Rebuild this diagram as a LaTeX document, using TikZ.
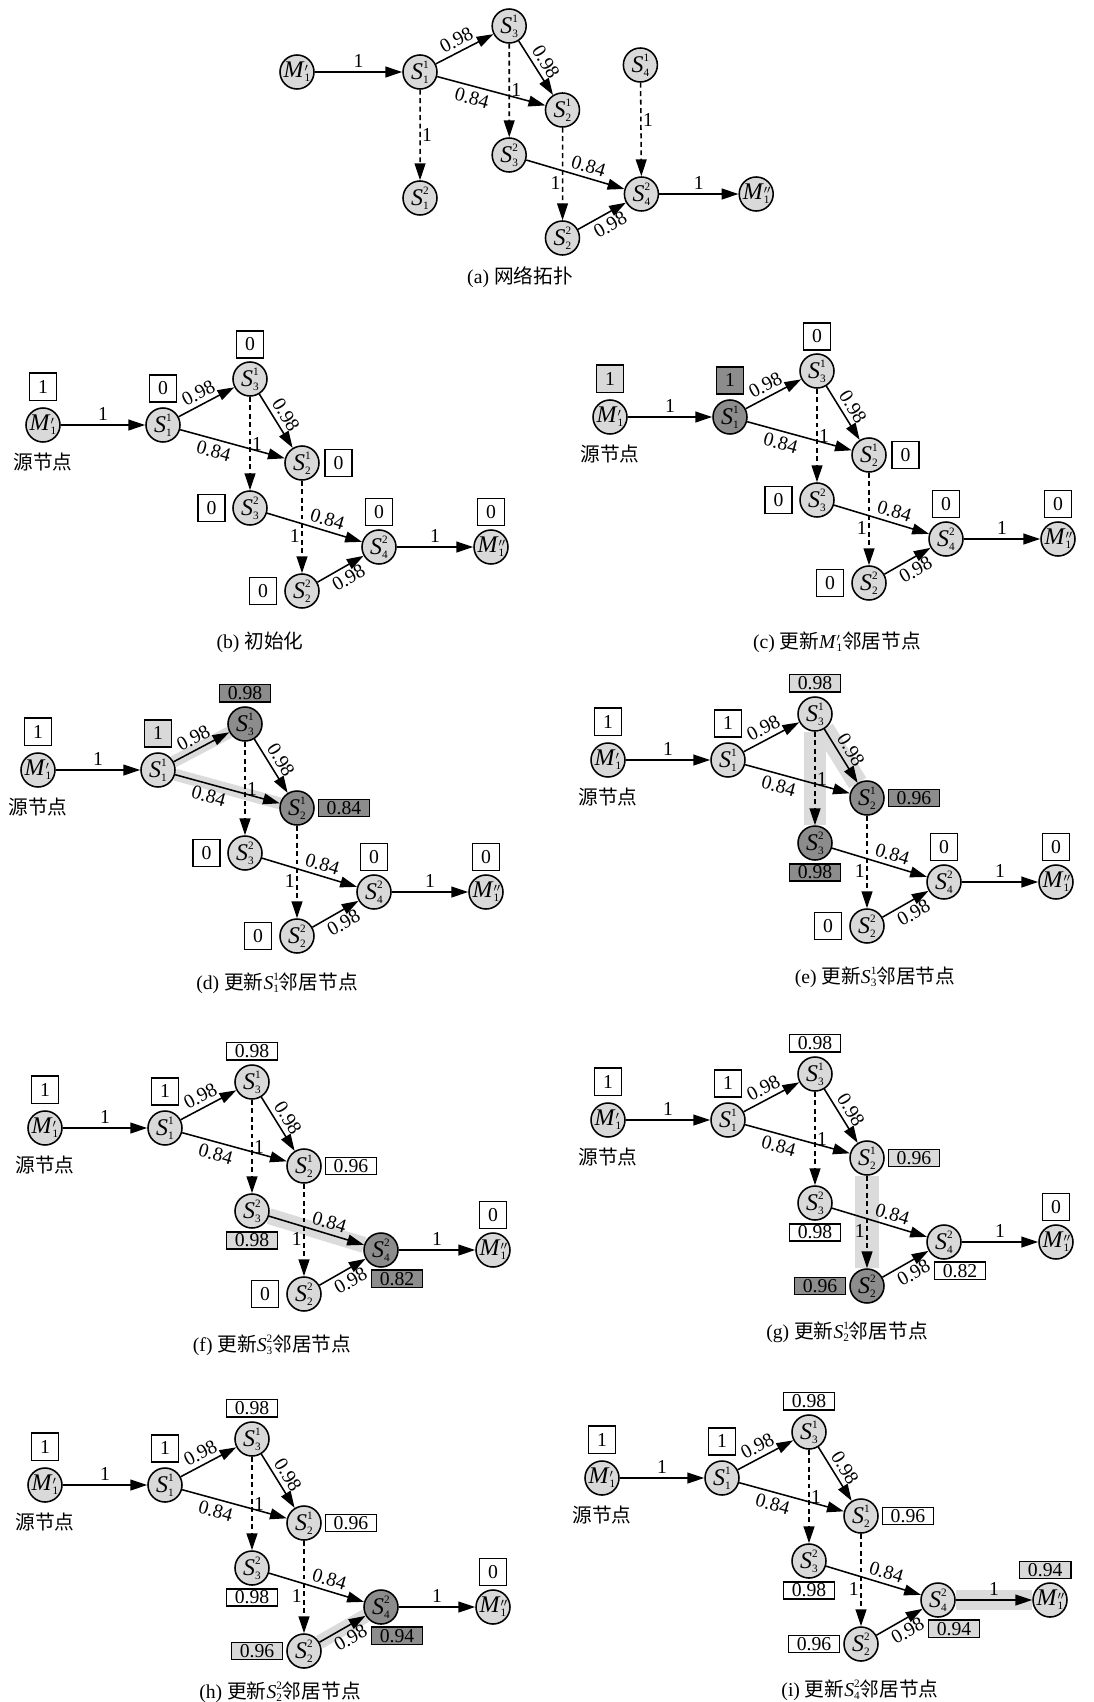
\documentclass[tikz,border=0pt]{standalone}
\usepackage{fontspec}
\setmainfont{Liberation Serif}
\newfontfamily\cjk{Noto Sans CJK SC}
\usetikzlibrary{arrows.meta,positioning,backgrounds}

\definecolor{ndgray}{gray}{0.85}
\definecolor{dkgray}{gray}{0.55}
\definecolor{hlgray}{gray}{0.86}

\newcommand{\tinyidx}{\fontsize{8}{8}\selectfont}
\newcommand{\Snd}[2]{\textit{S}\rlap{\raisebox{0.45em}{\tinyidx #1}}\raisebox{-0.17em}{\tinyidx #2}}
\newcommand{\Mnd}[1]{\textit{M}\rlap{\raisebox{0.05em}{\fontsize{11}{11}\selectfont$#1$}}\raisebox{-0.17em}{\tinyidx 1}}

% the network drawn in every panel, origin at M1'
\newcommand{\drawnet}[1]{%
  \node[nd,M1] (#1M1) at (0,0) {\Mnd{'}};
  \node[nd,S11] (#1S11) at (120,0) {\Snd{1}{1}};
  \node[nd,S31] (#1S31) at (207,-46) {\Snd{1}{3}};
  \node[nd,S21] (#1S21) at (259,38) {\Snd{1}{2}};
  \node[nd,S32] (#1S32) at (207,83) {\Snd{2}{3}};
  \node[nd,S42] (#1S42) at (336,122) {\Snd{2}{4}};
  \node[nd,S22] (#1S22) at (259,166) {\Snd{2}{2}};
  \node[nd,M2] (#1M2) at (448,122) {\Mnd{''}};
  \draw[arr] (#1M1) -- node[above] {1} (#1S11);
  \draw[arr] (#1S11) -- node[above,sloped,pos=0.45] {0.98} (#1S31);
  \draw[arr] (#1S31) -- node[above,sloped] {0.98} (#1S21);
  \draw[arr] (#1S11) -- node[below,sloped,pos=0.35] {0.84} (#1S21);
  \draw[arr,dsh] (#1S31) -- node[right,inner sep=1pt] {1} (#1S32);
  \draw[arr,dsh] (#1S21) -- node[left,inner sep=1pt,pos=0.6] {1} (#1S22);
  \draw[arr] (#1S32) -- node[above,sloped,pos=0.6] {0.84} (#1S42);
  \draw[arr] (#1S22) -- node[below,sloped,pos=0.55] {0.98} (#1S42);
  \draw[arr] (#1S42) -- node[above] {1} (#1M2);
}

\begin{document}
\begin{tikzpicture}[x=0.025cm, y=-0.025cm, font=\fontsize{14}{17}\selectfont,
    nd/.style={circle, draw, line width=1.1pt, fill=ndgray, minimum size=0.85cm, inner sep=0pt, font=\fontsize{17}{17}\selectfont},
    val/.style={draw, line width=1.1pt, fill=white, minimum width=0.68cm, minimum height=0.68cm, inner sep=0pt},
    valw/.style={val, minimum width=1.28cm, minimum height=0.43cm},
    lt/.style={fill=ndgray},
    dk/.style={fill=dkgray},
    arr/.style={-{Triangle[length=0.42cm,width=0.27cm]}, line width=1.1pt, every node/.style={inner sep=3pt}},
    dsh/.style={dash pattern=on 3.5pt off 2.5pt},
    hl/.style={draw=hlgray, line width=#1}, hl/.default=0.45cm,
    M1/.style={}, S11/.style={}, S31/.style={}, S21/.style={},
    S32/.style={}, S42/.style={}, S22/.style={}, M2/.style={}
]
\useasboundingbox (0,0) rectangle (1093,1702);

% (a)
\begin{scope}[shift={(297,72)}, xscale=1.025]
  \drawnet{a}
  \node[nd] (aS12) at (120,126) {\Snd{2}{1}};
  \node[nd] (aS41) at (335,-7) {\Snd{1}{4}};
  \draw[arr,dsh] (aS11) -- node[right,inner sep=1pt] {1} (aS12);
  \draw[arr,dsh] (aS41) -- node[right,inner sep=1pt,pos=0.4] {1} (aS42);
\end{scope}
\node (capa) at (520,277) {(a) {\cjk 网络拓扑}};

% (b)
\begin{scope}[shift={(43,425)}]
  \drawnet{b}
  \node[below=0.12cm of bM1] (bsrc) {\cjk 源节点};
  \node[val, above=0.15cm of bM1] (bvM1) {1};
  \node[val, above=0.11cm of bS11] (bvS11) {0};
  \node[val, above=0.06cm of bS31] (bvS31) {0};
  \node[val, right=0.11cm of bS21] (bvS21) {0};
  \node[val, left=0.16cm of bS32] (bvS32) {0};
  \node[val, above=0.07cm of bS42] (bvS42) {0};
  \node[val, above=0.07cm of bM2] (bvM2) {0};
  \node[val, left=0.17cm of bS22] (bvS22) {0};
\end{scope}
\node (capb) at (260,642) {(b) {\cjk 初始化}};

% (c)
\begin{scope}[shift={(610,417)}, S11/.style={fill=dkgray}]
  \drawnet{c}
  \node[below=0.12cm of cM1] (csrc) {\cjk 源节点};
  \node[val, lt, above=0.15cm of cM1] (cvM1) {1};
  \node[val, dk, above=0.11cm of cS11] (cvS11) {1};
  \node[val, above=0.06cm of cS31] (cvS31) {0};
  \node[val, right=0.11cm of cS21] (cvS21) {0};
  \node[val, left=0.16cm of cS32] (cvS32) {0};
  \node[val, above=0.07cm of cS42] (cvS42) {0};
  \node[val, above=0.07cm of cM2] (cvM2) {0};
  \node[val, left=0.17cm of cS22] (cvS22) {0};
\end{scope}
\node (capc) at (837,642) {(c) {\cjk 更新}\Mnd{'}{\cjk 邻居节点}};

% (d)
\begin{scope}[shift={(38,770)}, S31/.style={fill=dkgray}, S21/.style={fill=dkgray}]
  \drawnet{d}
  \begin{scope}[on background layer]
    \draw[hl=0.3cm] (dS11) -- (dS31);
    \draw[hl=0.3cm] (dS11) -- (dS21);
  \end{scope}
  \node[below=0.12cm of dM1] (dsrc) {\cjk 源节点};
  \node[val, above=0.15cm of dM1] (dvM1) {1};
  \node[val, lt, above=0.11cm of dS11] (dvS11) {1};
  \node[valw, dk, above=0.09cm of dS31] (dvS31) {0.98};
  \node[valw, dk, right=0.07cm of dS21] (dvS21) {0.84};
  \node[val, left=0.16cm of dS32] (dvS32) {0};
  \node[val, above=0.07cm of dS42] (dvS42) {0};
  \node[val, above=0.07cm of dM2] (dvM2) {0};
  \node[val, left=0.17cm of dS22] (dvS22) {0};
\end{scope}
\node (capd) at (277,983) {(d) {\cjk 更新}\Snd{1}{1}{\cjk 邻居节点}};

% (e)
\begin{scope}[shift={(608,760)}, S21/.style={fill=dkgray}, S32/.style={fill=dkgray}]
  \drawnet{e}
  \begin{scope}[on background layer]
    \draw[hl=0.55cm] (eS31) -- (eS32);
    \draw[hl=0.5cm] (eS31) -- (eS21);
  \end{scope}
  \node[below=0.12cm of eM1] (esrc) {\cjk 源节点};
  \node[val, above=0.15cm of eM1] (evM1) {1};
  \node[val, above=0.11cm of eS11] (evS11) {1};
  \node[valw, lt, above=0.09cm of eS31] (evS31) {0.98};
  \node[valw, dk, right=0.07cm of eS21] (evS21) {0.96};
  \node[valw, dk, below=0.06cm of eS32] (evS32) {0.98};
  \node[val, above=0.07cm of eS42] (evS42) {0};
  \node[val, above=0.07cm of eM2] (evM2) {0};
  \node[val, left=0.17cm of eS22] (evS22) {0};
\end{scope}
\node (cape) at (875,977) {(e) {\cjk 更新}\Snd{1}{3}{\cjk 邻居节点}};

% (f)
\begin{scope}[shift={(45,1128)}, S42/.style={fill=dkgray}]
  \drawnet{f}
  \begin{scope}[on background layer]
    \draw[hl=0.4cm] (fS32) -- (fS42);
  \end{scope}
  \node[below=0.12cm of fM1] (fsrc) {\cjk 源节点};
  \node[val, above=0.15cm of fM1] (fvM1) {1};
  \node[val, above=0.11cm of fS11] (fvS11) {1};
  \node[valw, above=0.09cm of fS31] (fvS31) {0.98};
  \node[valw, right=0.07cm of fS21] (fvS21) {0.96};
  \node[valw, lt, below=0.06cm of fS32] (fvS32) {0.98};
  \node[valw, dk, below=0.04cm of fS42, xshift=0.4cm] (fvS42) {0.82};
  \node[val, above=0.07cm of fM2] (fvM2) {0};
  \node[val, left=0.17cm of fS22] (fvS22) {0};
\end{scope}
\node (capf) at (272,1345) {(f) {\cjk 更新}\Snd{2}{3}{\cjk 邻居节点}};

% (g)
\begin{scope}[shift={(608,1120)}, S22/.style={fill=dkgray}]
  \drawnet{g}
  \begin{scope}[on background layer]
    \draw[hl=0.6cm] (gS21) -- (gS22);
  \end{scope}
  \node[below=0.12cm of gM1] (gsrc) {\cjk 源节点};
  \node[val, above=0.15cm of gM1] (gvM1) {1};
  \node[val, above=0.11cm of gS11] (gvS11) {1};
  \node[valw, above=0.09cm of gS31] (gvS31) {0.98};
  \node[valw, lt, right=0.07cm of gS21] (gvS21) {0.96};
  \node[valw, below=0.06cm of gS32] (gvS32) {0.98};
  \node[valw, below=0.04cm of gS42, xshift=0.4cm] (gvS42) {0.82};
  \node[val, above=0.07cm of gM2] (gvM2) {0};
  \node[valw, dk, left=0.07cm of gS22] (gvS22) {0.96};
\end{scope}
\node (capg) at (847,1332) {(g) {\cjk 更新}\Snd{1}{2}{\cjk 邻居节点}};

% (h)
\begin{scope}[shift={(45,1485)}, S42/.style={fill=dkgray}]
  \drawnet{h}
  \begin{scope}[on background layer]
    \draw[hl=0.35cm] (hS22) -- (hS42);
  \end{scope}
  \node[below=0.12cm of hM1] (hsrc) {\cjk 源节点};
  \node[val, above=0.15cm of hM1] (hvM1) {1};
  \node[val, above=0.11cm of hS11] (hvS11) {1};
  \node[valw, above=0.09cm of hS31] (hvS31) {0.98};
  \node[valw, right=0.07cm of hS21] (hvS21) {0.96};
  \node[valw, below=0.06cm of hS32] (hvS32) {0.98};
  \node[valw, dk, below=0.04cm of hS42, xshift=0.4cm] (hvS42) {0.94};
  \node[val, above=0.07cm of hM2] (hvM2) {0};
  \node[valw, lt, left=0.07cm of hS22] (hvS22) {0.96};
\end{scope}
\node (caph) at (280,1692) {(h) {\cjk 更新}\Snd{2}{2}{\cjk 邻居节点}};

% (i)
\begin{scope}[shift={(602,1478)}]
  \drawnet{i}
  \begin{scope}[on background layer]
    \draw[hl=0.5cm] (iS42) -- (iM2);
  \end{scope}
  \node[below=0.12cm of iM1] (isrc) {\cjk 源节点};
  \node[val, above=0.15cm of iM1] (ivM1) {1};
  \node[val, above=0.11cm of iS11] (ivS11) {1};
  \node[valw, above=0.09cm of iS31] (ivS31) {0.98};
  \node[valw, right=0.07cm of iS21] (ivS21) {0.96};
  \node[valw, below=0.06cm of iS32] (ivS32) {0.98};
  \node[valw, lt, below=0.04cm of iS42, xshift=0.4cm] (ivS42) {0.94};
  \node[valw, lt, above=0.07cm of iM2, xshift=-0.12cm] (ivM2) {0.94};
  \node[valw, left=0.07cm of iS22] (ivS22) {0.96};
\end{scope}
\node (capi) at (860,1690) {(i) {\cjk 更新}\Snd{2}{4}{\cjk 邻居节点}};
\end{tikzpicture}
\end{document}
